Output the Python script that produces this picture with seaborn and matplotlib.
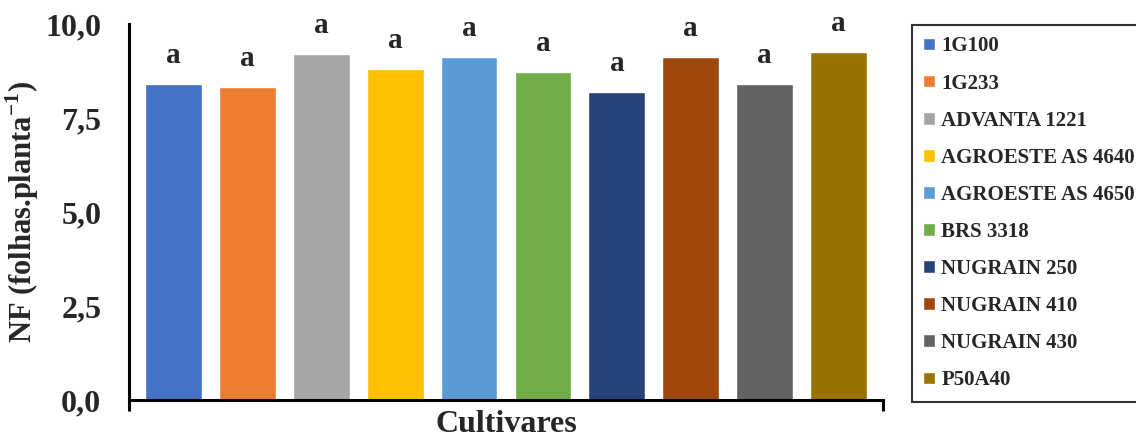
import matplotlib
matplotlib.use("Agg")
import matplotlib.pyplot as plt
import seaborn as sns
import pandas as pd

cultivares = ["1G100", "1G233", "ADVANTA 1221", "AGROESTE AS 4640", "AGROESTE AS 4650",
              "BRS 3318", "NUGRAIN 250", "NUGRAIN 410", "NUGRAIN 430", "P50A40"]
nf = [8.40, 8.32, 9.20, 8.80, 9.12, 8.72, 8.19, 9.12, 8.40, 9.26]
letras = ["a"] * 10
cores = ["#4472C4", "#ED7D31", "#A5A5A5", "#FFC000", "#5B9BD5",
         "#70AD47", "#264478", "#9E480E", "#636363", "#997300"]
yticks = [0, 2.5, 5, 7.5, 10]
ytick_labels = ["0,0", "2,5", "5,0", "7,5", "10,0"]

sns.set_theme(style="white")
plt.rcParams["font.family"] = ["Liberation Serif", "DejaVu Serif"]
plt.rcParams["font.weight"] = "bold"
plt.rcParams["mathtext.fontset"] = "custom"
plt.rcParams["mathtext.rm"] = "Liberation Serif:bold"
plt.rcParams["mathtext.bf"] = "Liberation Serif:bold"

df = pd.DataFrame({"Cultivar": cultivares, "NF": nf})

fig = plt.figure(figsize=(11.36, 4.42), dpi=100)
ax = fig.add_axes([129 / 1136, 1 - 400 / 442, (883 - 129) / 1136, (400 - 24) / 442])

sns.barplot(data=df, x="Cultivar", y="NF", hue="Cultivar", palette=cores,
            width=0.77, dodge=False, legend=True, ax=ax, saturation=1)

for i, (v, t) in enumerate(zip(nf, letras)):
    ax.annotate(t, (i, v), xytext=(0, 11), textcoords="offset points",
                ha="center", va="bottom", fontsize=21, fontweight="bold")

ax.set_ylim(0, 10)
ax.set_xlim(-0.6, 9.6)
ax.set_yticks(yticks)
ax.set_yticklabels(ytick_labels, fontsize=23, fontweight="bold")
ax.tick_params(axis="y", length=0, pad=20)
ax.set_xticks([-0.6, 9.6])
ax.set_xticklabels([])
ax.tick_params(axis="x", direction="out", length=8, width=2.2, color="black", bottom=True)

ax.set_ylabel(r"NF (folhas.planta$^{-1}$)", fontsize=22, fontweight="bold", labelpad=3)
ax.set_xlabel("Cultivares", fontsize=23, fontweight="bold", labelpad=-4)

for s in ["top", "right"]:
    ax.spines[s].set_visible(False)
for s in ["left", "bottom"]:
    ax.spines[s].set_color("black")
    ax.spines[s].set_linewidth(2.2)

handles, labels = ax.get_legend_handles_labels()
ax.get_legend().remove()
leg = fig.legend(handles, labels, loc="upper left", bbox_to_anchor=(912 / 1136, 1 - 25 / 442),
                 frameon=True, fancybox=False, edgecolor="black",
                 handlelength=0.55, handleheight=0.55, handletextpad=0.3,
                 labelspacing=0.82, borderpad=0.55, borderaxespad=0,
                 prop={"weight": "bold", "size": 15, "family": "Liberation Serif"})
leg.get_frame().set_linewidth(1.5)

fig.savefig("out.png", dpi=100)
